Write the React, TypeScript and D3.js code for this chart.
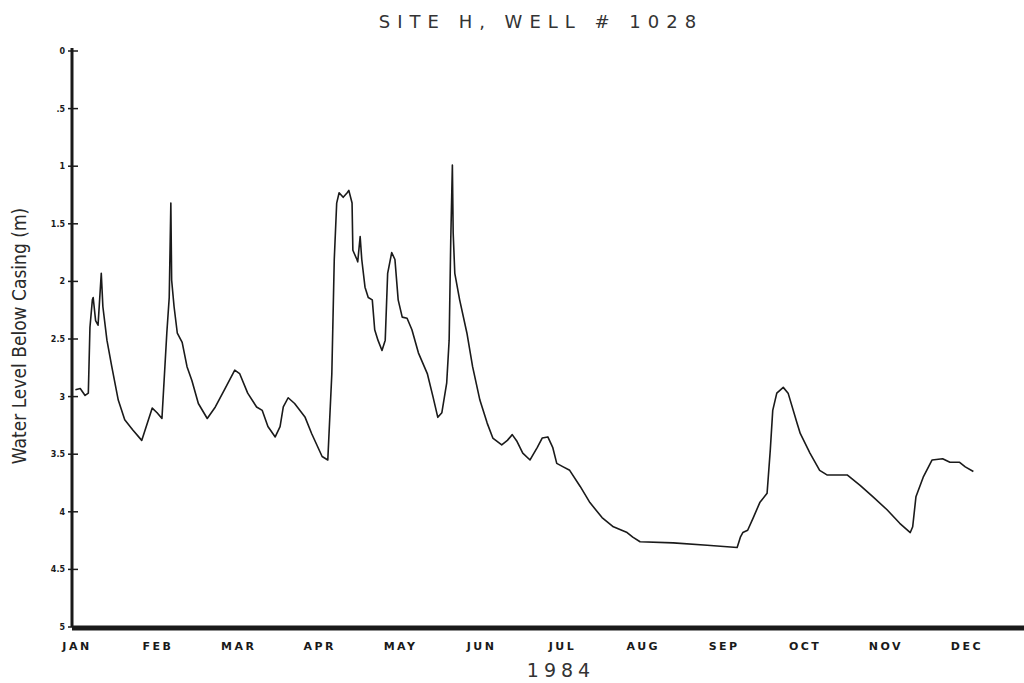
import React from "react";
import * as d3 from "d3";

// month position (0 = start of Jan, fractional) and water level below casing (m)
const monthPos = [
  -0.02, 0.04, 0.1, 0.14, 0.16, 0.19, 0.2, 0.23, 0.26, 0.3, 0.32, 0.37, 0.43, 0.51, 0.59, 0.69, 0.8, 0.87, 0.93, 0.99,
  1.05, 1.11, 1.14, 1.16, 1.17, 1.2, 1.24, 1.3, 1.36, 1.42, 1.5, 1.61, 1.71, 1.83, 1.95, 2.01, 2.11, 2.22, 2.29, 2.36,
  2.45, 2.51, 2.55, 2.61, 2.69, 2.82, 2.9, 3.03, 3.1, 3.15, 3.18, 3.21, 3.24, 3.29, 3.34, 3.36, 3.4, 3.41, 3.46, 3.47,
  3.5, 3.52, 3.56, 3.6, 3.65, 3.68, 3.72, 3.77, 3.81, 3.84, 3.89, 3.93, 3.97, 4.02, 4.08, 4.14, 4.22, 4.33, 4.4, 4.46,
  4.51, 4.57, 4.6, 4.62, 4.64, 4.65, 4.67, 4.73, 4.82, 4.89, 4.98, 5.07, 5.14, 5.25, 5.32, 5.38, 5.44, 5.51, 5.6, 5.69,
  5.75, 5.82, 5.88, 5.93, 6.01, 6.09, 6.22, 6.34, 6.49, 6.63, 6.8, 6.87, 6.96, 7.37, 7.79, 8.16, 8.2, 8.23, 8.29, 8.36,
  8.44, 8.53, 8.57, 8.6, 8.65, 8.73, 8.79, 8.9, 8.94, 9.06, 9.18, 9.27, 9.52, 9.68, 9.84, 10.01, 10.17, 10.3, 10.33, 10.37,
  10.46, 10.57, 10.7, 10.79, 10.91, 10.98, 11.08
];
const waterLevel = [
  2.94, 2.93, 2.99, 2.97, 2.4, 2.16, 2.14, 2.34, 2.38, 1.93, 2.22, 2.51, 2.74, 3.03, 3.2, 3.29, 3.38, 3.23, 3.1, 3.14,
  3.19, 2.45, 2.14, 1.32, 1.99, 2.22, 2.45, 2.53, 2.74, 2.86, 3.06, 3.19, 3.09, 2.93, 2.77, 2.8, 2.97, 3.09, 3.12, 3.26,
  3.35, 3.26, 3.09, 3.01, 3.06, 3.18, 3.32, 3.52, 3.55, 2.8, 1.81, 1.32, 1.23, 1.27, 1.23, 1.21, 1.32, 1.73, 1.81, 1.83,
  1.61, 1.81, 2.05, 2.14, 2.16, 2.42, 2.51, 2.6, 2.51, 1.93, 1.75, 1.81, 2.16, 2.31, 2.32, 2.42, 2.62, 2.8, 3.0, 3.18,
  3.14, 2.88, 2.51, 1.64, 0.99, 1.58, 1.93, 2.16, 2.45, 2.74, 3.03, 3.23, 3.36, 3.42, 3.38, 3.33, 3.39, 3.49, 3.55, 3.44,
  3.36, 3.35, 3.44, 3.58, 3.61, 3.64, 3.78, 3.92, 4.05, 4.13, 4.18, 4.22, 4.26, 4.27, 4.29, 4.31, 4.22, 4.18, 4.16, 4.05,
  3.92, 3.84, 3.46, 3.12, 2.97, 2.92, 2.97, 3.23, 3.32, 3.49, 3.64, 3.68, 3.68, 3.77, 3.87, 3.98, 4.1, 4.18, 4.13, 3.87,
  3.7, 3.55, 3.54, 3.57, 3.57, 3.61, 3.65
];

const months = ["JAN", "FEB", "MAR", "APR", "MAY", "JUN", "JUL", "AUG", "SEP", "OCT", "NOV", "DEC"];
const yTicks = [0, 0.5, 1, 1.5, 2, 2.5, 3, 3.5, 4, 4.5, 5];
const yTickLabels = ["0", ".5", "1", "1.5", "2", "2.5", "3", "3.5", "4", "4.5", "5"];

const W = 1024;
const H = 683;
const axisX = 72;

export default function App() {
  const x = d3.scaleLinear().domain([0, 12]).range([77, 77 + 12 * 80.9]);
  const y = d3.scaleLinear().domain([0, 5]).range([51, 627]);

  const pts: [number, number][] = monthPos.map((m, i) => [m, waterLevel[i]]);
  const line = d3.line<[number, number]>()
    .x(d => x(d[0]))
    .y(d => y(d[1]))
    .curve(d3.curveLinear);

  const ink = "#1a1a1a";

  return (
    <svg width={W} height={H} style={{position: "absolute", left: 0, top: 0, background: "#fff"}}>
      <text x={541} y={28} textAnchor="middle" fontFamily="DejaVu Sans" fontSize={18}
        letterSpacing={7} fill="#333">SITE H, WELL # 1028</text>

      <text transform={`translate(26, 336) rotate(-90)`} textAnchor="middle"
        fontFamily="DejaVu Sans Condensed, sans-serif" fontSize={19}
        fill="#2a2a2a">Water Level Below Casing (m)</text>

      {/* y axis */}
      <line x1={axisX} x2={axisX} y1={y(0) - 3} y2={y(5)} stroke={ink} strokeWidth={3} />
      {yTicks.map((t, i) => (
        <g key={t}>
          <line x1={axisX - 4} x2={axisX + 6} y1={y(t)} y2={y(t)} stroke={ink} strokeWidth={1.5} />
          <text x={axisX - 7} y={y(t) + 3} textAnchor="end" fontFamily="DejaVu Sans"
            fontSize={8} fontWeight="bold" fill={ink}>{yTickLabels[i]}</text>
        </g>
      ))}

      {/* x axis */}
      <line x1={axisX} x2={W} y1={y(5) + 1} y2={y(5) + 1} stroke={ink} strokeWidth={5} />
      {months.map((m, i) => (
        <text key={m} x={x(i)} y={650} textAnchor="middle" fontFamily="DejaVu Sans"
          fontSize={11} fontWeight="bold" letterSpacing={2.5} fill={ink}>{m}</text>
      ))}
      <text x={561} y={677} textAnchor="middle" fontFamily="DejaVu Sans" fontSize={19}
        letterSpacing={5} fill="#333">1984</text>

      <path d={line(pts) || ""} fill="none" stroke={ink} strokeWidth={1.6} strokeLinejoin="round" />
    </svg>
  );
}
